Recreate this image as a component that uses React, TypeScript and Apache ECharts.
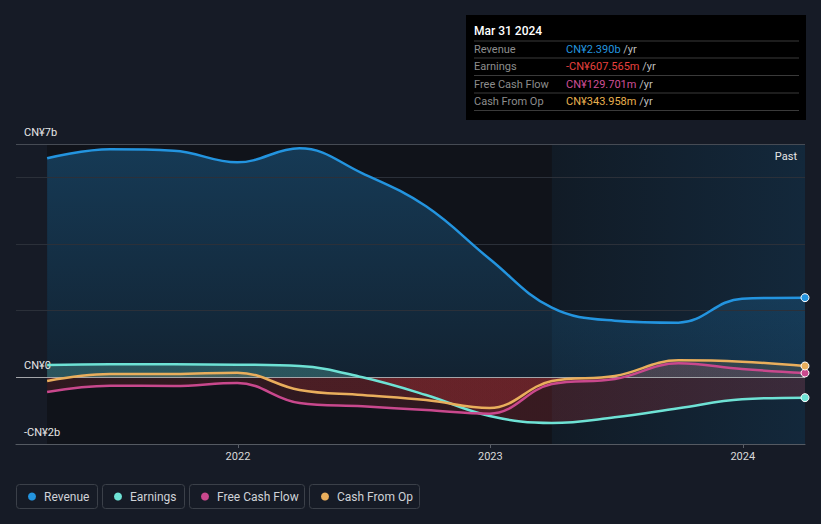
import React, { useEffect, useRef } from "react";
import * as echarts from "echarts";

// ---------- data (values in CN¥ billions) ----------
const quarters = [
  "2021-03-31", "2021-06-30", "2021-09-30", "2021-12-31",
  "2022-03-31", "2022-06-30", "2022-09-30", "2022-12-31",
  "2023-03-31", "2023-06-30", "2023-09-30", "2023-12-31", "2024-03-31",
];
const revenue = [6.57, 6.84, 6.8, 6.45, 6.87, 6.12, 5.13, 3.55, 2.09, 1.7, 1.64, 2.36, 2.39];
const earnings = [0.37, 0.39, 0.39, 0.38, 0.34, 0.0, -0.53, -1.16, -1.37, -1.2, -0.93, -0.66, -0.61];
const freeCashFlow = [-0.44, -0.25, -0.26, -0.17, -0.77, -0.87, -0.98, -1.09, -0.2, -0.05, 0.42, 0.25, 0.13];
const cashFromOp = [-0.11, 0.1, 0.1, 0.14, -0.38, -0.53, -0.68, -0.92, -0.11, 0.04, 0.51, 0.47, 0.34];

const seriesNames = ["Revenue", "Earnings", "Free Cash Flow", "Cash From Op"];
const seriesColors = ["#2394df", "#6ee2d5", "#c9488d", "#e9ae5c"];
const yTickLabels: Record<number, string> = { 7: "CN¥7b", 0: "CN¥0", [-2]: "-CN¥2b" };
const xYearTicks = [2022, 2023, 2024];
const axisMinDate = "2021-02-14";
const pastStart = "2023-03-31";

const tooltipTitle = "Mar 31 2024";
const tooltipLabels = ["Revenue", "Earnings", "Free Cash Flow", "Cash From Op"];
const tooltipValues = ["CN¥2.390b", "-CN¥607.565m", "CN¥129.701m", "CN¥343.958m"];
const tooltipColors = ["#2394df", "#e8413e", "#cf4f97", "#e9b04f"];

const ts = (s: string) => {
  const [y, m, d] = s.split("-").map(Number);
  return new Date(y, m - 1, d).getTime();
};

const FONT = "Roboto, 'Noto Sans', sans-serif";
const Y_MIN = -2;
const Y_MAX = 7;
const SMOOTH = 0.4;

type Geo = {
  xStart: number; xPast: number; xEnd: number; yTop: number; yBottom: number; zeroY: number; H: number;
} | null;

function signGradient(geo: Geo, pos: string, neg: string): any {
  if (!geo) return pos;
  const f = geo.zeroY / geo.H;
  return {
    type: "linear", x: 0, y: 0, x2: 0, y2: geo.H, global: true,
    colorStops: [
      { offset: 0, color: pos },
      { offset: f, color: pos },
      { offset: f, color: neg },
      { offset: 1, color: neg },
    ],
  };
}

function buildOption(geo: Geo): any {
  const lists = [revenue, earnings, freeCashFlow, cashFromOp];
  const makeData = (arr: number[], color: string) =>
    arr.map((v, i) => {
      const item: any = { value: [ts(quarters[i]), v] };
      if (i === arr.length - 1) {
        item.symbol = "circle";
        item.symbolSize = 8;
        item.itemStyle = { color, borderColor: "#ffffff", borderWidth: 1 };
      }
      return item;
    });

  const fills = [
    {
      type: "linear", x: 0, y: 0, x2: 0, y2: 1,
      colorStops: [
        { offset: 0, color: "rgba(35,148,223,0.30)" },
        { offset: 1, color: "rgba(35,148,223,0.12)" },
      ],
    },
    signGradient(geo, "rgba(110,226,213,0.26)", "rgba(215,55,60,0.20)"),
    signGradient(geo, "rgba(201,72,141,0.14)", "rgba(215,55,60,0.16)"),
    signGradient(geo, "rgba(233,174,92,0.14)", "rgba(215,55,60,0.16)"),
  ];

  const series: any[] = [];
  lists.forEach((arr, k) => {
    series.push({
      name: seriesNames[k] + " fill",
      type: "line",
      data: arr.map((v, i) => [ts(quarters[i]), v]),
      smooth: SMOOTH,
      symbol: "none",
      lineStyle: { width: 0 },
      areaStyle: { color: fills[k], opacity: 1 },
      z: 2,
      silent: true,
    });
  });
  lists.forEach((arr, k) => {
    series.push({
      name: seriesNames[k],
      type: "line",
      data: makeData(arr, seriesColors[k]),
      smooth: SMOOTH,
      symbol: "none",
      showSymbol: true,
      lineStyle: { width: 2.5, color: seriesColors[k] },
      itemStyle: { color: seriesColors[k] },
      z: 4,
      silent: true,
    });
  });

  const graphic: any[] = [];
  if (geo) {
    graphic.push({
      type: "rect", z: -10, silent: true,
      shape: { x: geo.xStart, y: geo.yTop, width: geo.xPast - geo.xStart, height: geo.yBottom - geo.yTop },
      style: { fill: "#10131a" },
    });
    graphic.push({
      type: "rect", z: -10, silent: true,
      shape: { x: geo.xPast, y: geo.yTop, width: geo.xEnd - geo.xPast, height: geo.yBottom - geo.yTop },
      style: {
        fill: {
          type: "linear", x: 0, y: 0, x2: 1, y2: 0,
          colorStops: [
            { offset: 0, color: "#111b26" },
            { offset: 1, color: "#13283b" },
          ],
        },
      },
    });
    graphic.push({
      type: "text", z: 10, silent: true,
      x: geo.xEnd - 8, y: geo.yTop + 12,
      style: { text: "Past", fill: "#e6e6e6", font: `11px ${FONT}`, textAlign: "right", textVerticalAlign: "middle" },
    });
  }

  // tooltip box
  const tbX = 466, tbY = 15, tbW = 340, tbH = 105;
  graphic.push({ type: "rect", z: 20, silent: true, shape: { x: tbX, y: tbY, width: tbW, height: tbH }, style: { fill: "#000000" } });
  graphic.push({
    type: "text", z: 21, silent: true, x: tbX + 8, y: 31,
    style: { text: tooltipTitle, fill: "#ffffff", font: `500 12px ${FONT}`, textVerticalAlign: "middle" },
  });
  const rowYs = [49.5, 66.5, 84, 101.5];
  const lineYs = [41, 58, 75.5, 93, 110.5];
  lineYs.forEach((ly) => {
    graphic.push({
      type: "line", z: 21, silent: true,
      shape: { x1: tbX + 8, y1: ly, x2: tbX + tbW - 7, y2: ly },
      style: { stroke: "#3a3a3a", lineWidth: 1 },
    });
  });
  tooltipLabels.forEach((lab, i) => {
    graphic.push({
      type: "text", z: 21, silent: true, x: tbX + 8, y: rowYs[i],
      style: { text: lab, fill: "#8d8d8d", font: `11px ${FONT}`, textVerticalAlign: "middle" },
    });
    graphic.push({
      type: "text", z: 21, silent: true, x: tbX + 100, y: rowYs[i],
      style: {
        text: `{v|${tooltipValues[i]}} {u|/yr}`,
        textVerticalAlign: "middle",
        font: `11px ${FONT}`,
        rich: {
          v: { fill: tooltipColors[i], font: `11px ${FONT}` },
          u: { fill: "#bdbdbd", font: `11px ${FONT}` },
        },
      },
    });
  });

  // legend boxes
  const legendBoxes = [
    { x: 16, w: 81 },
    { x: 102, w: 82 },
    { x: 189, w: 115 },
    { x: 309, w: 110 },
  ];
  legendBoxes.forEach((b, i) => {
    graphic.push({
      type: "rect", z: 20, silent: true,
      shape: { x: b.x + 0.5, y: 484.5, width: b.w, height: 24, r: 3 },
      style: { fill: "transparent", stroke: "#3b4049", lineWidth: 1 },
    });
    graphic.push({
      type: "circle", z: 21, silent: true,
      shape: { cx: b.x + 16, cy: 496.5, r: 4 },
      style: { fill: seriesColors[i] },
    });
    graphic.push({
      type: "text", z: 21, silent: true, x: b.x + 28, y: 496.5,
      style: { text: seriesNames[i], fill: "#cfd2d7", font: `12px ${FONT}`, textVerticalAlign: "middle" },
    });
  });

  const splitColors: string[] = [];
  for (let v = Y_MIN; v <= Y_MAX; v++) {
    if (v === 0) splitColors.push("#a3a5a9");
    else if (v === Y_MAX) splitColors.push("#464b54");
    else if (v === Y_MIN) splitColors.push("#555a62");
    else if (v % 2 === 0) splitColors.push("#2b3039");
    else splitColors.push("rgba(0,0,0,0)");
  }

  const yearTicks = xYearTicks.map((y) => new Date(y, 0, 1).getTime());

  return {
    animation: false,
    backgroundColor: "#161b26",
    textStyle: { fontFamily: FONT },
    grid: { left: 16, right: 16, top: 144, bottom: 80, containLabel: false },
    xAxis: {
      type: "value",
      min: ts(axisMinDate),
      max: ts(quarters[quarters.length - 1]),
      axisLine: { show: true, onZero: false, lineStyle: { color: "#5a5f68", width: 1 } },
      axisTick: {
        show: true, length: 4, lineStyle: { color: "#5a5f68" },
        customValues: yearTicks,
      },
      axisLabel: {
        color: "#d9d9d9", fontSize: 11, margin: 7, fontFamily: FONT,
        customValues: yearTicks,
        formatter: (v: number) => String(new Date(v).getFullYear()),
      },
      splitLine: { show: false },
    },
    yAxis: {
      type: "value",
      min: Y_MIN,
      max: Y_MAX,
      interval: 1,
      axisLine: { show: false },
      axisTick: { show: false },
      axisLabel: {
        inside: true,
        margin: 8,
        color: "#e6e6e6",
        fontSize: 11,
        fontFamily: FONT,
        verticalAlign: "bottom",
        padding: [0, 0, 6, 0],
        showMinLabel: true,
        showMaxLabel: true,
        formatter: (v: number) => yTickLabels[v] ?? "",
      },
      splitLine: { show: true, lineStyle: { color: splitColors, width: 1 } },
      z: 3,
    },
    series,
    graphic,
  };
}

export default function App() {
  const ref = useRef<HTMLDivElement>(null);
  useEffect(() => {
    if (!ref.current) return;
    const chart = echarts.init(ref.current, undefined, { renderer: "svg" });
    chart.setOption(buildOption(null));
    const px = (d: string) => chart.convertToPixel({ xAxisIndex: 0 }, ts(d)) as number;
    const py = (v: number) => chart.convertToPixel({ yAxisIndex: 0 }, v) as number;
    const geo = {
      xStart: px(quarters[0]),
      xPast: px(pastStart),
      xEnd: px(quarters[quarters.length - 1]),
      yTop: py(Y_MAX),
      yBottom: py(Y_MIN),
      zeroY: py(0),
      H: chart.getHeight(),
    };
    chart.setOption(buildOption(geo), true);
    return () => chart.dispose();
  }, []);
  return (
    <div style={{ position: "fixed", left: 0, top: 0, width: 821, height: 524, background: "#161b26" }}>
      <div ref={ref} style={{ width: 821, height: 524 }} />
    </div>
  );
}
